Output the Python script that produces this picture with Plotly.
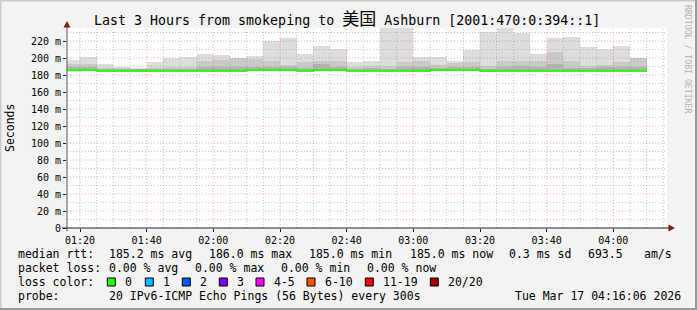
import plotly.graph_objects as go
import pandas as pd

# ---------------- data ----------------
DAY = "2026-03-17 "
interval_start = ["01:15", "01:20", "01:25", "01:30", "01:35", "01:40", "01:45", "01:50", "01:55",
                  "02:00", "02:05", "02:10", "02:15", "02:20", "02:25", "02:30", "02:35", "02:40",
                  "02:45", "02:50", "02:55", "03:00", "03:05", "03:10", "03:15", "03:20", "03:25",
                  "03:30", "03:35", "03:40", "03:45", "03:50", "03:55", "04:00", "04:05"]
interval_end = "04:10"

max_ms = [198, 201.5, 193, 190, 188, 195, 200.5, 201.5, 205, 204, 200.5, 202.5, 219.5, 224, 205,
          214.5, 211, 195, 197, 240, 240, 201.5, 201.5, 197, 209, 231, 236, 229.5, 205, 224, 225,
          213, 211, 214.5, 200]
upper_ms = [192.5, 193, 188.5, 188, 187.5, 188.5, 189.5, 189.5, 197, 198, 199.5, 198.5, 197, 192,
            195, 197, 196.5, 190, 191, 191, 195, 196.5, 192, 194, 195, 191, 196, 196.5, 197, 206.5,
            196, 191, 192, 195, 199.5]
dark_ms = [189, 189, 186.5, 186.5, 186.5, 186.5, 187, 187, 189, 189, 190, 189.5, 190, 189, 188,
           193, 189, 187, 188, 187.5, 189, 190, 188.5, 189, 189, 187, 190, 191, 189, 193, 188, 188,
           189, 190, 189.5]
median_ms = [185.5, 186, 185, 185, 185, 185, 185, 185, 185, 185, 185, 186, 186, 186, 185, 186, 186,
             185, 185, 185, 185, 185, 186, 186, 186, 185, 185, 185, 185, 185, 185, 185, 185, 185, 185]
min_ms = [m - 1 for m in median_ms]

y_tick_vals = [0, 20, 40, 60, 80, 100, 120, 140, 160, 180, 200, 220]
y_tick_text = ["0", "20 m", "40 m", "60 m", "80 m", "100 m", "120 m", "140 m", "160 m", "180 m",
               "200 m", "220 m"]
x_tick_text = ["01:20", "01:40", "02:00", "02:20", "02:40", "03:00", "03:20", "03:40", "04:00"]

title_parts = ["Last 3 Hours from smokeping to ", "美国", " Ashburn [2001:470:0:394::1]"]
loss_labels = ["0", "1", "2", "3", "4-5", "6-10", "11-19", "20/20"]
loss_colors = ["#26ff00", "#00b8ff", "#0059ff", "#7e00ff", "#ff00ff", "#ff5500", "#ff0000", "#a10000"]

# ---------------- geometry ----------------
W, H = 697, 310
PL, PT, PW, PH = 67, 28, 600, 200
MONO = "DejaVu Sans Mono, Noto Sans CJK SC, monospace"


def px(x):
    return (x - PL) / PW


def py(y):
    return (PT + PH - y) / PH


starts = pd.to_datetime([DAY + s for s in interval_start])
mids = starts + pd.Timedelta(minutes=2.5)
step_ms = 300000

fig = go.Figure()


def band(low, high, color):
    fig.add_trace(go.Bar(x=mids, y=[h - l for h, l in zip(high, low)], base=low, width=step_ms,
                         marker=dict(color=color, line=dict(width=0)), hoverinfo="skip",
                         showlegend=False))


band(min_ms, max_ms, "#dddddd")
band(min_ms, upper_ms, "#c9c9c9")
band(min_ms, dark_ms, "#b3b3b3")

line_x = list(starts) + [pd.Timestamp(DAY + interval_end)]
line_y = median_ms + [median_ms[-1]]
fig.add_trace(go.Scatter(x=line_x, y=line_y, mode="lines", line=dict(color="#26ff00", width=2, shape="hv"),
                         hoverinfo="skip", showlegend=False))

shapes = []
# grid (drawn on top, like rrdtool)
GRID_MINOR = "rgba(150,150,150,0.55)"
GRID_MAJOR = "rgba(255,60,60,0.45)"
DASH = "1px,2px"
for v in range(10, 236, 10):
    major = v % 20 == 0
    shapes.append(dict(type="line", xref="paper", yref="y", x0=0, x1=1, y0=v, y1=v, layer="above",
                       line=dict(color=GRID_MAJOR if major else GRID_MINOR, width=1, dash=DASH)))
for t in pd.date_range(DAY + "01:20", DAY + "04:15", freq="5min"):
    major = t.minute % 20 == 0
    shapes.append(dict(type="line", xref="x", yref="paper", x0=t, x1=t, y0=0, y1=1, layer="above",
                       line=dict(color=GRID_MAJOR if major else GRID_MINOR, width=1, dash=DASH)))

# axes lines and arrows
AX = "#222222"
ARROW = "#8b1a1a"
shapes.append(dict(type="line", xref="paper", yref="paper", x0=px(PL), x1=px(PL), y0=py(231), y1=py(24),
                   layer="above", line=dict(color="#555555", width=1)))
shapes.append(dict(type="line", xref="paper", yref="paper", x0=px(62), x1=px(670), y0=py(228), y1=py(228),
                   layer="above", line=dict(color=AX, width=1)))
shapes.append(dict(type="path", xref="paper", yref="paper", layer="above",
                   path=f"M {px(67)},{py(21)} L {px(63.5)},{py(27.5)} L {px(70.5)},{py(27.5)} Z",
                   fillcolor=ARROW, line=dict(width=0)))
shapes.append(dict(type="path", xref="paper", yref="paper", layer="above",
                   path=f"M {px(675)},{py(228)} L {px(668.5)},{py(224.5)} L {px(668.5)},{py(231.5)} Z",
                   fillcolor=ARROW, line=dict(width=0)))

# frame of the image
shapes.append(dict(type="line", xref="paper", yref="paper", x0=px(0), x1=px(W), y0=py(0.5), y1=py(0.5),
                   line=dict(color="#cbcbcb", width=2)))
shapes.append(dict(type="line", xref="paper", yref="paper", x0=px(0.5), x1=px(0.5), y0=py(0), y1=py(H),
                   line=dict(color="#cbcbcb", width=2)))
shapes.append(dict(type="line", xref="paper", yref="paper", x0=px(0), x1=px(W), y0=py(H - 1), y1=py(H - 1),
                   line=dict(color="#999999", width=2)))
shapes.append(dict(type="line", xref="paper", yref="paper", x0=px(W - 1), x1=px(W - 1), y0=py(0), y1=py(H),
                   line=dict(color="#999999", width=2)))

annotations = []


def txt(x, y, s, size=11.5, color="#000000", angle=0, xanchor="left"):
    annotations.append(dict(xref="paper", yref="paper", x=px(x), y=py(y), text=s.replace(" ", "\u00a0"),
                            showarrow=False, xanchor=xanchor, yanchor="middle", textangle=angle,
                            font=dict(family=MONO, size=size, color=color)))


# title
title_html = (title_parts[0].replace(" ", "\u00a0")
              + '<span style="font-size:17px">' + title_parts[1] + '</span>'
              + title_parts[2].replace(" ", "\u00a0"))
annotations.append(dict(xref="paper", yref="paper", x=px(92), y=py(19), text=title_html,
                        showarrow=False, xanchor="left", yanchor="middle",
                        font=dict(family=MONO, size=13.3, color="#000000")))

txt(10, 128, "Seconds", size=11.5, angle=-90, xanchor="center")
txt(688, 59, "RRDTOOL / TOBI OETIKER", size=8.2, color="#b4b4b4", angle=90, xanchor="center")

# legend block
L1, L2, L3, L4 = 254, 268, 282, 296
txt(16, L1, "median rtt:")
txt(107.3, L1, "185.2 ms avg")
txt(206.7, L1, "186.0 ms max")
txt(307.3, L1, "185.0 ms min")
txt(407.7, L1, "185.0 ms now")
txt(506.7, L1, "0.3 ms sd")
txt(585.7, L1, "693.5")
txt(642.3, L1, "am/s")

txt(16, L2, "packet loss:")
txt(107.3, L2, "0.00 % avg")
txt(193.3, L2, "0.00 % max")
txt(279.3, L2, "0.00 % min")
txt(365, L2, "0.00 % now")

txt(16, L3, "loss color:")
box_x = [107.3, 145.3, 182.3, 219.3, 256, 307, 365.3, 430.3]
for bx, lab, col in zip(box_x, loss_labels, loss_colors):
    shapes.append(dict(type="rect", xref="paper", yref="paper", x0=px(bx), x1=px(bx + 8),
                       y0=py(286), y1=py(278), fillcolor=col, line=dict(color="#000000", width=1)))
    txt(bx + 15.7, L3, lab)

txt(16, L4, "probe:")
txt(107.3, L4, "20 IPv6-ICMP Echo Pings (56 Bytes) every 300s")
txt(513.3, L4, "Tue Mar 17 04:16:06 2026")

fig.update_layout(
    width=W, height=H,
    margin=dict(l=PL, r=W - PL - PW, t=PT, b=H - PT - PH, pad=0),
    paper_bgcolor="#f3f3f3", plot_bgcolor="#ffffff",
    barmode="overlay", bargap=0,
    showlegend=False,
    xaxis=dict(range=[DAY + "01:16:06", DAY + "04:16:06"], type="date",
               tickvals=[pd.Timestamp(DAY + t) for t in x_tick_text], ticktext=x_tick_text,
               showgrid=False, zeroline=False, showline=False,
               ticks="outside", ticklen=3, tickcolor=AX,
               tickfont=dict(family=MONO, size=10, color="#000000")),
    yaxis=dict(range=[0, 200 / 0.85], tickvals=y_tick_vals, ticktext=y_tick_text,
               showgrid=False, zeroline=False, showline=False,
               ticks="outside", ticklen=3, tickcolor=AX,
               tickfont=dict(family=MONO, size=10, color="#000000")),
    shapes=shapes,
    annotations=annotations,
)

fig.write_html("out.html")
